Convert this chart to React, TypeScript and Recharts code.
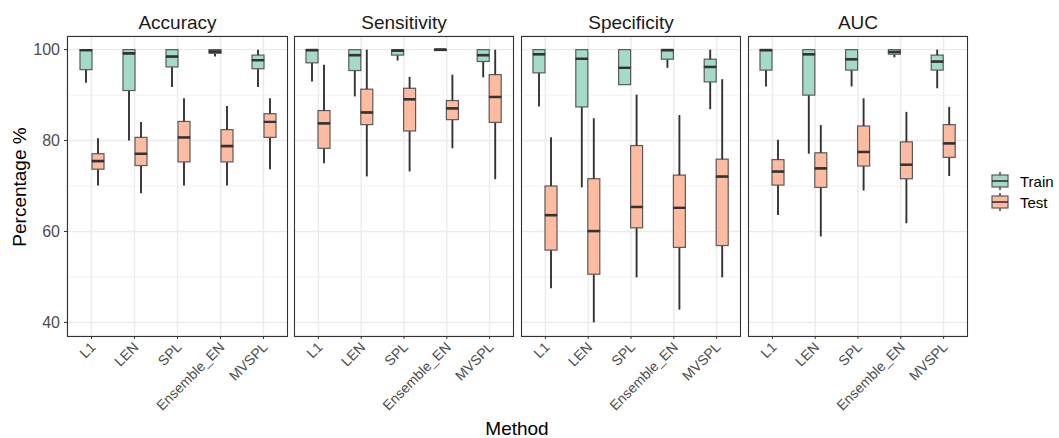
import React from 'react';
import { BarChart, Bar, XAxis, YAxis, CartesianGrid } from 'recharts';

const categories = ['L1', 'LEN', 'SPL', 'Ensemble_EN', 'MVSPL'];
const metricNames = ['Accuracy', 'Sensitivity', 'Specificity', 'AUC'];
const seriesNames = ['Train', 'Test'];
const yTicks = [40, 60, 80, 100];
const yMinorTicks = [50, 70, 90];

// each entry: [min, q1, median, q3, max]
const accuracyTrain = [[92.7, 95.6, 99.9, 100, 100], [80.0, 91.0, 99.2, 100, 100], [91.8, 96.2, 98.5, 100, 100], [98.5, 99.2, 99.6, 100, 100], [91.8, 95.8, 97.7, 98.8, 100]];
const accuracyTest = [[70.1, 73.7, 75.5, 77.1, 80.5], [68.4, 74.5, 77.1, 80.7, 84.1], [70.1, 75.3, 80.7, 84.2, 89.3], [70.1, 75.3, 78.8, 82.4, 87.6], [73.7, 80.7, 84.1, 85.9, 89.3]];
const sensitivityTrain = [[93.0, 97.1, 99.9, 100, 100], [89.7, 95.4, 98.8, 100, 100], [97.6, 98.8, 99.8, 100, 100], [99.8, 99.8, 100, 100, 100], [93.9, 97.4, 98.8, 100, 100]];
const sensitivityTest = [[75.0, 78.3, 83.8, 86.6, 96.7], [72.1, 83.5, 86.2, 91.3, 100], [73.2, 82.1, 89.1, 91.5, 94.0], [78.3, 84.6, 87.1, 88.8, 94.5], [71.5, 84.0, 89.6, 94.5, 100]];
const specificityTrain = [[87.5, 94.9, 99.0, 100, 100], [69.7, 87.4, 98.0, 100, 100], [92.3, 92.3, 96.0, 100, 100], [96.0, 97.9, 99.9, 100, 100], [86.9, 92.9, 96.2, 97.9, 100]];
const specificityTest = [[47.5, 55.9, 63.6, 70.0, 80.7], [40.0, 50.6, 60.1, 71.6, 84.9], [49.9, 60.8, 65.4, 78.9, 90.1], [42.8, 56.5, 65.2, 72.4, 85.6], [49.9, 56.9, 72.1, 75.9, 93.5]];
const aucTrain = [[91.9, 95.5, 99.9, 100, 100], [77.1, 90.0, 99.0, 100, 100], [91.9, 95.5, 97.9, 100, 100], [98.3, 99.0, 99.5, 100, 100], [91.5, 95.5, 97.4, 98.8, 100]];
const aucTest = [[63.6, 70.2, 73.2, 75.8, 80.2], [58.9, 69.7, 73.9, 77.3, 83.4], [69.0, 74.4, 77.5, 83.2, 89.3], [61.8, 71.6, 74.7, 79.7, 86.3], [72.2, 76.3, 79.4, 83.5, 87.4]];

const metricSeries = [
  [accuracyTrain, accuracyTest],
  [sensitivityTrain, sensitivityTest],
  [specificityTrain, specificityTest],
  [aucTrain, aucTest],
];

const FONT = '"Liberation Sans", Arial, Helvetica, sans-serif';
const FILLS = ['#A3DAC9', '#FDBBA1'];
const KEYS = ['tr', 'te'];
const WHISKER = '#333333';
const OUTLINE = '#5a5a5a';

const PANELS = [
  { left: 67, right: 288 },
  { left: 294, right: 514 },
  { left: 521, right: 741 },
  { left: 748, right: 968 },
];
const PANEL_TOP = 36;
const PANEL_BOTTOM = 336;
const H = 438;

function buildRows(train: number[][], test: number[][]) {
  return categories.map((cat, i) => {
    const row: any = { cat };
    [train[i], test[i]].forEach((s, k) => {
      const key = KEYS[k];
      row[key + '0'] = s[0];
      row[key + '1'] = s[1] - s[0];
      row[key + '2'] = s[2] - s[1];
      row[key + '3'] = s[3] - s[2];
      row[key + '4'] = s[4] - s[3];
    });
    return row;
  });
}

const Empty = () => <g />;

const Whisker = (props: any) => {
  const { x, y, width, height } = props;
  if (!(height > 0)) return <g />;
  const cx = x + width / 2;
  return <line x1={cx} x2={cx} y1={y} y2={y + height} stroke={WHISKER} strokeWidth={1.9} />;
};

const makeBox = (fill: string, medianAtTop: boolean) => (props: any) => {
  const { x, y, width, height } = props;
  const h = Math.max(0, height || 0);
  const my = medianAtTop ? y : y + h;
  return (
    <g>
      {h > 0 && <rect x={x} y={y} width={width} height={h} fill={fill} stroke={OUTLINE} strokeWidth={1.2} />}
      <line x1={x} x2={x + width} y1={my} y2={my} stroke={WHISKER} strokeWidth={2.4} />
    </g>
  );
};

const XTick = (props: any) => {
  const { x, y, payload } = props;
  return (
    <g transform={`translate(${x + 5},${y + 7})`}>
      <text textAnchor="end" transform="rotate(-45)" fontSize={14} fill="#4D4D4D" fontFamily={FONT}>
        {payload.value}
      </text>
    </g>
  );
};

function Panel({ index }: { index: number }) {
  const p = PANELS[index];
  const showY = index === 0;
  const chartLeft = showY ? 0 : p.left;
  const width = p.right - chartLeft;
  const [train, test] = metricSeries[index];
  const data = buildRows(train, test);
  return (
    <div style={{ position: 'absolute', left: chartLeft, top: 0 }}>
      <BarChart
        width={width}
        height={H}
        data={data}
        margin={{ top: PANEL_TOP, right: 0, bottom: 0, left: 0 }}
        barGap={0}
        barSize={12}
      >
        <CartesianGrid stroke="#EBEBEB" strokeWidth={1.4} />
        <CartesianGrid stroke="#EBEBEB" strokeWidth={0.7} vertical={false} horizontalValues={yMinorTicks} />
        <XAxis
          dataKey="cat"
          type="category"
          interval={0}
          height={H - PANEL_BOTTOM}
          padding={{ left: 3, right: 3 }}
          axisLine={false}
          tickSize={3}
          tickLine={{ stroke: '#333333' }}
          tick={<XTick />}
        />
        <YAxis
          type="number"
          domain={[37, 103]}
          allowDataOverflow
          ticks={yTicks}
          hide={!showY}
          width={showY ? p.left : 0}
          axisLine={false}
          tickSize={3}
          tickMargin={4}
          tickLine={{ stroke: '#333333' }}
          tick={{ fill: '#4D4D4D', fontSize: 16, fontFamily: FONT }}
        />
        {KEYS.map((key, k) => [
          <Bar key={key + '0'} dataKey={key + '0'} stackId={key} name={seriesNames[k]} fill="transparent" shape={<Empty />} isAnimationActive={false} />,
          <Bar key={key + '1'} dataKey={key + '1'} stackId={key} fill={WHISKER} shape={<Whisker />} isAnimationActive={false} />,
          <Bar key={key + '2'} dataKey={key + '2'} stackId={key} fill={FILLS[k]} shape={makeBox(FILLS[k], true)} isAnimationActive={false} />,
          <Bar key={key + '3'} dataKey={key + '3'} stackId={key} fill={FILLS[k]} shape={makeBox(FILLS[k], false)} isAnimationActive={false} />,
          <Bar key={key + '4'} dataKey={key + '4'} stackId={key} fill={WHISKER} shape={<Whisker />} isAnimationActive={false} />,
        ])}
      </BarChart>
    </div>
  );
}

function LegendKey({ y, fill, label }: { y: number; fill: string; label: string }) {
  return (
    <g>
      <line x1={1000} x2={1000} y1={y - 9} y2={y + 9} stroke={WHISKER} strokeWidth={1.4} />
      <rect x={992} y={y - 6} width={16} height={12} fill={fill} stroke={OUTLINE} strokeWidth={1.2} />
      <line x1={992} x2={1008} y1={y} y2={y} stroke={WHISKER} strokeWidth={1.6} />
      <text x={1020} y={y + 5.5} fontSize={15} fill="#000" fontFamily={FONT}>{label}</text>
    </g>
  );
}

export default function App() {
  return (
    <div style={{ position: 'absolute', left: 0, top: 0, width: 1059, height: H, background: '#fff', fontFamily: FONT }}>
      {metricNames.map((m, i) => (
        <Panel key={m} index={i} />
      ))}
      <svg width={1059} height={H} style={{ position: 'absolute', left: 0, top: 0, pointerEvents: 'none' }}>
        {PANELS.map((p, i) => (
          <g key={i}>
            <rect x={p.left + 0.5} y={PANEL_TOP + 0.5} width={p.right - p.left - 1} height={PANEL_BOTTOM - PANEL_TOP} fill="none" stroke="#333333" strokeWidth={1.1} />
            <text x={(p.left + p.right) / 2} y={28.5} textAnchor="middle" fontSize={19} fill="#1A1A1A" fontFamily={FONT}>
              {metricNames[i]}
            </text>
          </g>
        ))}
        <text x={517} y={435} textAnchor="middle" fontSize={19} fill="#000" fontFamily={FONT}>Method</text>
        <text transform="translate(26,187) rotate(-90)" textAnchor="middle" fontSize={19} fill="#000" fontFamily={FONT}>Percentage %</text>
        <LegendKey y={181} fill={FILLS[0]} label={seriesNames[0]} />
        <LegendKey y={202} fill={FILLS[1]} label={seriesNames[1]} />
      </svg>
    </div>
  );
}
